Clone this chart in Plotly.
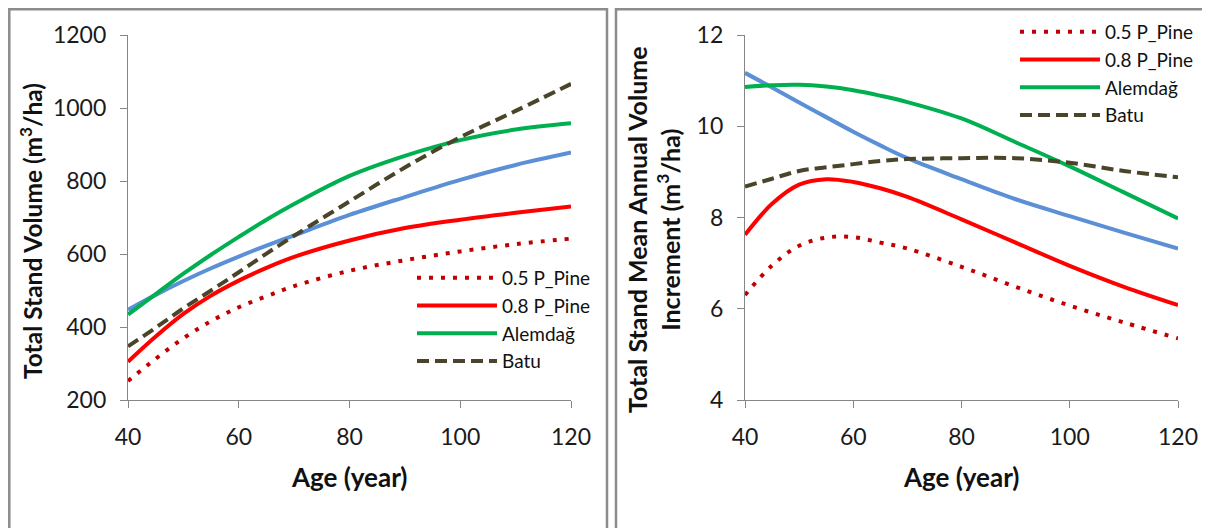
import plotly.graph_objects as go

# ---------------- data ----------------
age = [40, 45, 50, 55, 60, 65, 70, 80, 90, 100, 110, 120]

# Total stand volume (m3/ha)
vol_p05 = [252, 313, 369, 416, 454, 484, 512, 554, 583, 607, 627, 642]
vol_p08 = [305, 374, 436, 486, 527, 562, 592, 637, 671, 694, 713, 730]
vol_alemdag = [434, 490, 546, 598, 647, 694, 737, 814, 869, 912, 941, 958]
vol_batu = [347, 398, 451, 500, 550, 601, 650, 744, 837, 920, 992, 1066]
vol_blue = [447, 488, 526, 561, 593, 623, 651, 707, 756, 803, 844, 878]

# Total stand mean annual volume increment (m3/ha)
mai_p05 = [6.30, 6.95, 7.38, 7.56, 7.57, 7.45, 7.32, 6.92, 6.48, 6.07, 5.70, 5.35]
mai_p08 = [7.62, 8.30, 8.72, 8.84, 8.78, 8.64, 8.45, 7.96, 7.45, 6.94, 6.48, 6.08]
mai_alemdag = [10.86, 10.90, 10.91, 10.87, 10.79, 10.67, 10.53, 10.17, 9.65, 9.12, 8.55, 7.98]
mai_batu = [8.68, 8.85, 9.02, 9.10, 9.17, 9.24, 9.28, 9.30, 9.30, 9.20, 9.02, 8.88]
mai_blue = [11.17, 10.85, 10.52, 10.20, 9.88, 9.58, 9.30, 8.84, 8.40, 8.03, 7.67, 7.32]

names = ["0.5 P_Pine", "0.8 P_Pine", "Alemdağ", "Batu"]
x_ticks = [40, 60, 80, 100, 120]
y1_ticks = [200, 400, 600, 800, 1000, 1200]
y2_ticks = [4, 6, 8, 10, 12]

# ---------------- styles ----------------
FONT = "Lato, Carlito, Calibri, sans-serif"
styles = [
    dict(color="#C00000", width=4, dash="4px,8px"),
    dict(color="#FF0000", width=4, dash="solid"),
    dict(color="#00B050", width=4, dash="solid"),
    dict(color="#4A452A", width=4, dash="12px,6px"),
]
blue_style = dict(color="#5B8FD6", width=4)
AXC = "#868686"

fig = go.Figure()

left_series = [vol_p05, vol_p08, vol_alemdag, vol_batu]
right_series = [mai_p05, mai_p08, mai_alemdag, mai_batu]

# blue (no legend entry) drawn first
fig.add_trace(go.Scatter(x=age, y=vol_blue, mode="lines", line=dict(shape="spline", **blue_style),
                         showlegend=False, xaxis="x", yaxis="y"))
fig.add_trace(go.Scatter(x=age, y=mai_blue, mode="lines", line=dict(shape="spline", **blue_style),
                         showlegend=False, xaxis="x2", yaxis="y2"))

for n, s, st in zip(names, left_series, styles):
    fig.add_trace(go.Scatter(x=age, y=s, name=n, mode="lines",
                             line=dict(shape="spline", **st), xaxis="x", yaxis="y", legend="legend"))
for n, s, st in zip(names, right_series, styles):
    fig.add_trace(go.Scatter(x=age, y=s, name=n, mode="lines",
                             line=dict(shape="spline", **st), xaxis="x2", yaxis="y2", legend="legend2"))

# the page body adds an 8px offset; size the figure so it fits the 1210x528 window
OFF = 8
W, H = 1210 - OFF, 528 - OFF

def px_x(p):
    return (p - OFF) / W

def px_y(p):
    return 1 - (p - OFF) / H

axis_common = dict(showline=True, linecolor=AXC, linewidth=1.3, ticks="outside", ticklen=7,
                   tickcolor=AXC, tickwidth=1.3, showgrid=False, zeroline=False, ticklabelstandoff=9,
                   tickfont=dict(family=FONT, size=23, color="#1a1a1a"))

legend_common = dict(font=dict(family=FONT, size=19, color="#111"), bgcolor="rgba(0,0,0,0)",
                     itemwidth=80, tracegroupgap=0, xanchor="left", yanchor="top",
                     traceorder="normal")

TFONT = dict(family=FONT, size=26, color="#111")

fig.update_layout(
    width=W, height=H,
    margin=dict(l=0, r=0, t=0, b=0, autoexpand=False),
    paper_bgcolor="white", plot_bgcolor="white",
    xaxis=dict(domain=[px_x(128), px_x(571)], range=[40, 120], tickvals=x_ticks, anchor="y", **axis_common),
    yaxis=dict(domain=[px_y(400), px_y(35)], range=[200, 1200], tickvals=y1_ticks, anchor="x", **axis_common),
    xaxis2=dict(domain=[px_x(745), px_x(1178)], range=[40, 120], tickvals=x_ticks, anchor="y2", **axis_common),
    yaxis2=dict(domain=[px_y(400), px_y(35)], range=[4, 12], tickvals=y2_ticks, anchor="x2", **axis_common),
    legend=dict(x=px_x(412), y=px_y(259), **legend_common),
    legend2=dict(x=px_x(1015), y=px_y(13), **legend_common),
    shapes=[
        dict(type="rect", xref="paper", yref="paper", x0=px_x(9.3), x1=px_x(607), y0=-0.05, y1=px_y(9.3),
             line=dict(color="#8C8C8C", width=2.5), fillcolor="rgba(0,0,0,0)", layer="below"),
        dict(type="rect", xref="paper", yref="paper", x0=px_x(616), x1=1.05, y0=-0.05, y1=px_y(9.3),
             line=dict(color="#8C8C8C", width=2.5), fillcolor="rgba(0,0,0,0)", layer="below"),
    ],
    annotations=[
        dict(text="<b>Total Stand Volume (m<sup>3</sup>/ha)</b>", textangle=-90, xref="paper", yref="paper",
             x=px_x(31), y=px_y(231), showarrow=False, xanchor="center", yanchor="middle",
             font=dict(family=FONT, size=24.5, color="#111")),
        dict(text="<b>Total Stand Mean Annual Volume<br>Increment (m<sup>3</sup>/ha)</b>", textangle=-90,
             xref="paper", yref="paper", x=px_x(653), y=px_y(230), showarrow=False,
             xanchor="center", yanchor="middle", font=dict(family=FONT, size=25, color="#111")),
        dict(text="<b>Age (year)</b>", xref="paper", yref="paper", x=px_x(349), y=px_y(477),
             showarrow=False, xanchor="center", yanchor="middle", font=TFONT),
        dict(text="<b>Age (year)</b>", xref="paper", yref="paper", x=px_x(961), y=px_y(477),
             showarrow=False, xanchor="center", yanchor="middle", font=TFONT),
    ],
)

fig.write_html("out.html")
